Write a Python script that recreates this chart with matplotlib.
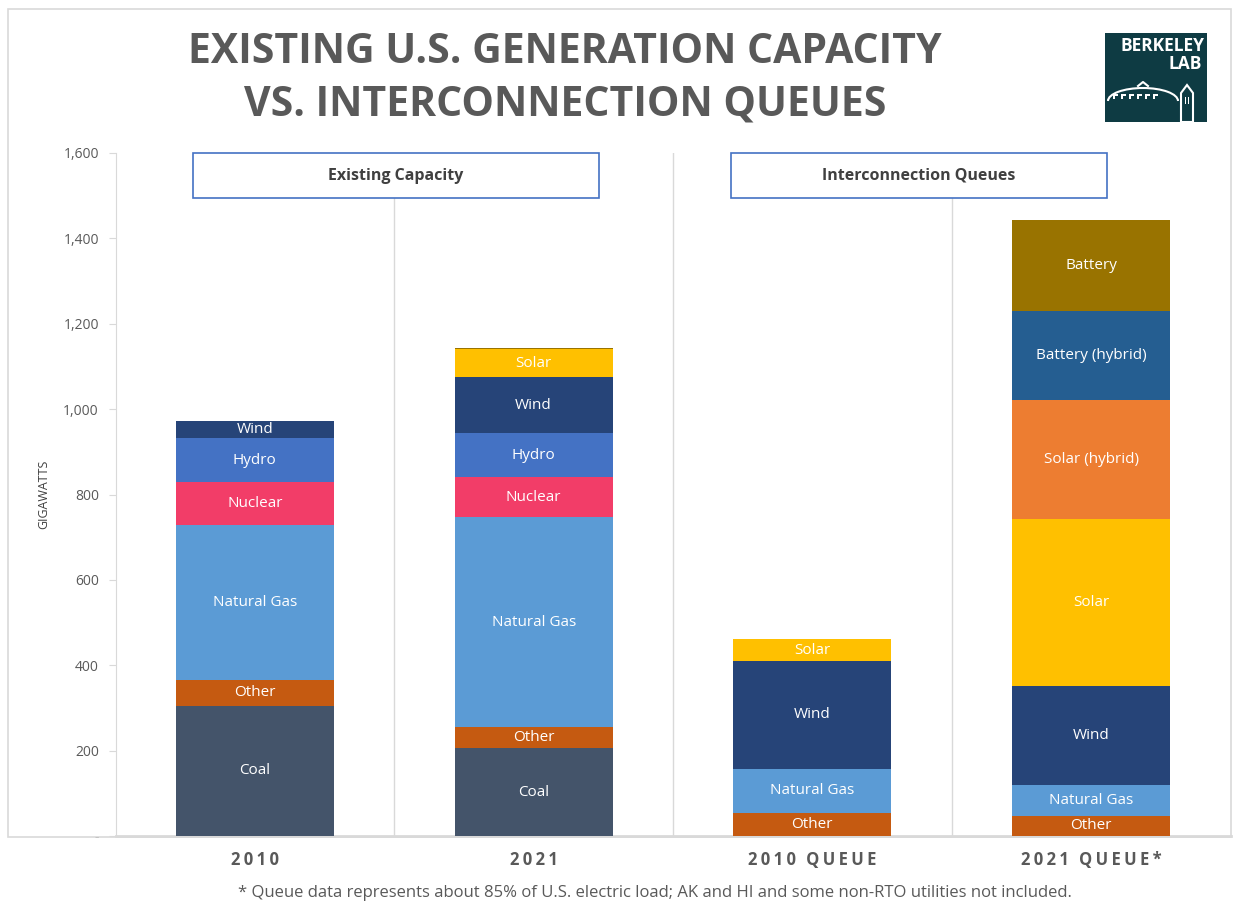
import matplotlib
matplotlib.use("Agg")
import matplotlib.pyplot as plt
from matplotlib.patches import Rectangle, Arc, Polygon
import numpy as np

plt.rcParams['font.family'] = ['Open Sans', 'DejaVu Sans']

categories = ["2010", "2021", "2010 QUEUE", "2021 QUEUE*"]
series_names = ["Coal", "Other", "Natural Gas", "Nuclear", "Hydro", "Wind", "Solar",
                "Solar (hybrid)", "Battery (hybrid)", "Battery"]
coal = [305, 206, 0, 0]
other = [60, 49, 54, 47]
natural_gas = [363, 492, 103, 72]
nuclear = [101, 94, 0, 0]
hydro = [103, 103, 0, 0]
wind = [40, 131, 253, 232]
solar = [1, 66, 51, 392]
solar_hybrid = [0, 0, 0, 278]
battery_hybrid = [0, 0, 0, 209]
battery = [0, 2, 0, 213]
series_values = [coal, other, natural_gas, nuclear, hydro, wind, solar,
                 solar_hybrid, battery_hybrid, battery]
colors = ["#44546A", "#C55A11", "#5B9BD5", "#F23D68", "#4472C4", "#264478",
          "#FFC000", "#ED7D31", "#255E91", "#997300"]
yticks = [0, 200, 400, 600, 800, 1000, 1200, 1400, 1600]
ytick_labels = ["-", "200", "400", "600", "800", "1,000", "1,200", "1,400", "1,600"]
group_titles = ["Existing Capacity", "Interconnection Queues"]
title = "EXISTING U.S. GENERATION CAPACITY\nVS. INTERCONNECTION QUEUES"
footnote = "* Queue data represents about 85% of U.S. electric load; AK and HI and some non-RTO utilities not included."

W, H = 1244, 907
fig = plt.figure(figsize=(W / 100, H / 100), dpi=100)

# outer frame
fig.patches.append(Rectangle((8 / W, 1 - 837 / H), (1231 - 8) / W, (837 - 9) / H,
                             transform=fig.transFigure, fill=False,
                             edgecolor="#D9D9D9", linewidth=1.2, zorder=0))

ax = fig.add_axes([115.5 / W, 1 - 836 / H, (1230.5 - 115.5) / W, (836 - 153) / H])
x = np.arange(len(categories))
bar_w = 0.566
bottom = np.zeros(len(categories))
for name, vals, col in zip(series_names, series_values, colors):
    v = np.array(vals, dtype=float)
    ax.bar(x, v, bar_w, bottom=bottom, color=col, edgecolor="none", zorder=3)
    for i in range(len(categories)):
        if v[i] >= 30:
            ax.text(x[i], bottom[i] + v[i] / 2, name, ha="center", va="center",
                    color="white", fontsize=11, zorder=4)
    bottom += v

ax.set_xlim(-0.5, len(categories) - 0.5)
ax.set_ylim(0, 1600)
ax.set_yticks(yticks)
ax.set_yticklabels(ytick_labels, color="#595959", fontsize=10)
ax.set_xticks(x)
ax.set_xticklabels(["\u2009".join(c).replace("\u2009 \u2009", "\u2009\u2009\u2009") for c in categories],
                   fontweight="bold", color="#595959", fontsize=12)
ax.tick_params(axis="x", length=0, pad=11)
ax.tick_params(axis="y", length=5, color="#D9D9D9", pad=7)
for s in ["top", "right"]:
    ax.spines[s].set_visible(False)
ax.spines["left"].set_color("#D9D9D9")
ax.spines["bottom"].set_color("#D9D9D9")
ax.spines["bottom"].set_linewidth(2)
ax.set_ylabel("GIGAWATTS", color="#404040", fontsize=9, labelpad=9)

# separators
for sx, top in [(0.5, 1600 * (836 - 198) / 683), (1.5, 1600), (2.5, 1600 * (836 - 198) / 683)]:
    ax.plot([sx, sx], [0, top], color="#D9D9D9", lw=1, zorder=1)

# group boxes
def px_to_data(px, py):
    dx = -0.5 + (px - 115.5) / (1230.5 - 115.5) * 4
    dy = (836 - py) / 683 * 1600
    return dx, dy

for (x0, x1), label in zip([(193, 599), (731, 1107)], group_titles):
    dx0, dy0 = px_to_data(x0, 198)
    dx1, dy1 = px_to_data(x1, 153)
    ax.add_patch(Rectangle((dx0, dy0), dx1 - dx0, dy1 - dy0, facecolor="white",
                           edgecolor="#4472C4", lw=1.2, zorder=5, clip_on=False))
    ax.text((dx0 + dx1) / 2, (dy0 + dy1) / 2, label, ha="center", va="center",
            fontweight="bold", color="#404040", fontsize=11.5, zorder=6)

# title
fig.text(565 / W, 1 - 79 / H, title, ha="center", va="center", fontsize=29.5,
         fontweight="bold", color="#595959", linespacing=1.38)

# footnote
fig.text(655 / W, 1 - 893 / H, footnote, ha="center", va="center", fontsize=12,
         color="#595959")

# logo
lx0, ly0, lw, lh = 1105, 33, 102, 89
lax = fig.add_axes([lx0 / W, 1 - (ly0 + lh) / H, lw / W, lh / H])
lax.set_xlim(0, lw)
lax.set_ylim(lh, 0)
lax.axis("off")
lax.add_patch(Rectangle((0, 0), lw, lh, facecolor="#0E3B43", edgecolor="none"))
lax.text(lw - 3, 13, "BERKELEY", ha="right", va="center", color="white",
         fontweight="bold", fontsize=12.5)
lax.text(lw - 5, 31, "LAB", ha="right", va="center", color="white",
         fontweight="bold", fontsize=12.5)
lax.add_patch(Arc((38, 68), 70, 26, theta1=180, theta2=360, color="white", lw=1.5))
for k in range(6):
    lax.add_patch(Rectangle((8 + k * 8, 61), 5, 2, facecolor="white"))
    lax.add_patch(Rectangle((8 + k * 8, 61), 1.5, 5, facecolor="white"))
lax.add_patch(Polygon([[76, 89], [76, 60], [82, 52], [88, 60], [88, 89]],
                      closed=True, fill=False, edgecolor="white", lw=1.5))
lax.add_patch(Rectangle((80, 64), 1.2, 7, facecolor="white"))
lax.add_patch(Rectangle((83, 64), 1.2, 7, facecolor="white"))
lax.plot([33, 38, 43], [53, 49, 53], color="white", lw=1.5)

fig.savefig("out.png", dpi=100)
